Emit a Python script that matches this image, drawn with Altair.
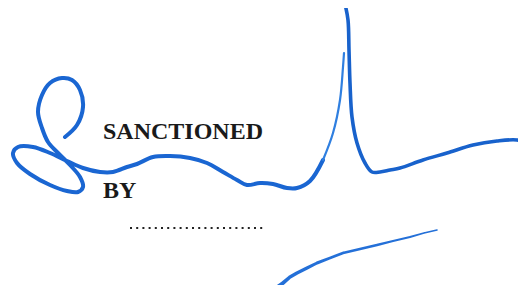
import altair as alt
import pandas as pd

# Signature strokes, traced in picture pixel coordinates (x right, y down)
loop_x = [65, 77, 83, 80, 72, 62, 50, 42, 38, 42, 48, 58, 70, 80, 83, 78, 67, 50, 30, 17, 13, 18, 33, 50, 67, 83, 100, 113, 127, 137, 153, 170, 190, 207, 223, 237, 247, 260, 273, 287, 297, 310, 323]
loop_y = [137, 125, 107, 90, 80, 78, 83, 95, 112, 128, 142, 153, 165, 177, 187, 192, 191, 185, 174, 163, 153, 147, 147, 153, 161, 168, 172, 172, 167, 164, 157, 156, 158, 163, 172, 180, 185, 183, 184, 188, 188, 181, 160]

up_x = [323, 333, 340, 343, 344]
up_y = [160, 133, 100, 67, 53]

down_x = [345, 348, 349, 350, 352, 357, 365, 372, 380, 390, 400, 423, 447, 473, 497, 517, 525]
down_y = [4, 20, 50, 83, 117, 143, 163, 172, 172, 170, 168, 160, 153, 145, 141, 140, 143]

low_x = [270, 276, 283, 290, 297, 307, 317, 330, 343, 360, 377, 393, 410, 424, 437]
low_y = [295, 288, 283, 277, 273, 268, 263, 258, 253, 249, 245, 241, 237, 233, 230]
low_w = [5.0, 4.8, 4.5, 4.2, 4.0, 3.7, 3.4, 3.1, 2.8, 2.5, 2.2, 1.9, 1.6, 1.3, 1.0]

labels = ["SANCTIONED", "BY"]
label_x = [103, 103]
label_y = [139, 198]

dots_x = [130, 264]
dots_y = [228, 228]

# the visible page area inside the 8px body margin
X = alt.Scale(domain=[8, 518], nice=False, zero=False)
Y = alt.Scale(domain=[8, 285], nice=False, zero=False, reverse=True)


def stroke_df(xs, ys):
    return pd.DataFrame({"i": list(range(len(xs))), "x": xs, "y": ys})


def pen(xs, ys, width, color):
    return alt.Chart(stroke_df(xs, ys)).mark_line(
        interpolate="catmull-rom", strokeWidth=width, color=color,
        strokeCap="round", strokeJoin="round"
    ).encode(
        x=alt.X("x:Q", scale=X, axis=None),
        y=alt.Y("y:Q", scale=Y, axis=None),
        order="i:Q",
    )


loop = pen(loop_x, loop_y, 4, "#1a66d2")
up = pen(up_x, up_y, 2.2, "#2f7fe0")
down = pen(down_x, down_y, 3.6, "#1862cc")

low_df = pd.DataFrame({"i": list(range(len(low_x))), "x": low_x, "y": low_y, "w": low_w})
low = alt.Chart(low_df).mark_trail(color="#2470d8").encode(
    x=alt.X("x:Q", scale=X, axis=None),
    y=alt.Y("y:Q", scale=Y, axis=None),
    order="i:Q",
    size=alt.Size("w:Q", scale=alt.Scale(type="identity"), legend=None),
)

text_df = pd.DataFrame({"t": labels, "x": label_x, "y": label_y})
text = alt.Chart(text_df).mark_text(
    align="left", baseline="alphabetic", font="Liberation Serif",
    fontSize=24, fontWeight="bold", color="#1a1a1a"
).encode(
    x=alt.X("x:Q", scale=X, axis=None),
    y=alt.Y("y:Q", scale=Y, axis=None),
    text="t:N",
)

dots_df = pd.DataFrame({"x": [dots_x[0]], "x2": [dots_x[1]], "y": [dots_y[0]]})
dots = alt.Chart(dots_df).mark_rule(
    color="#222222", strokeWidth=2, strokeDash=[2, 4.2]
).encode(
    x=alt.X("x:Q", scale=X, axis=None),
    x2="x2:Q",
    y=alt.Y("y:Q", scale=Y, axis=None),
)

chart = alt.layer(text, dots, loop, up, down, low).properties(
    width=510, height=277, padding=0,
    autosize=alt.AutoSizeParams(type="none"),
).configure_view(stroke=None)

chart.save("out.html", embed_options={"renderer": "svg", "actions": False})
